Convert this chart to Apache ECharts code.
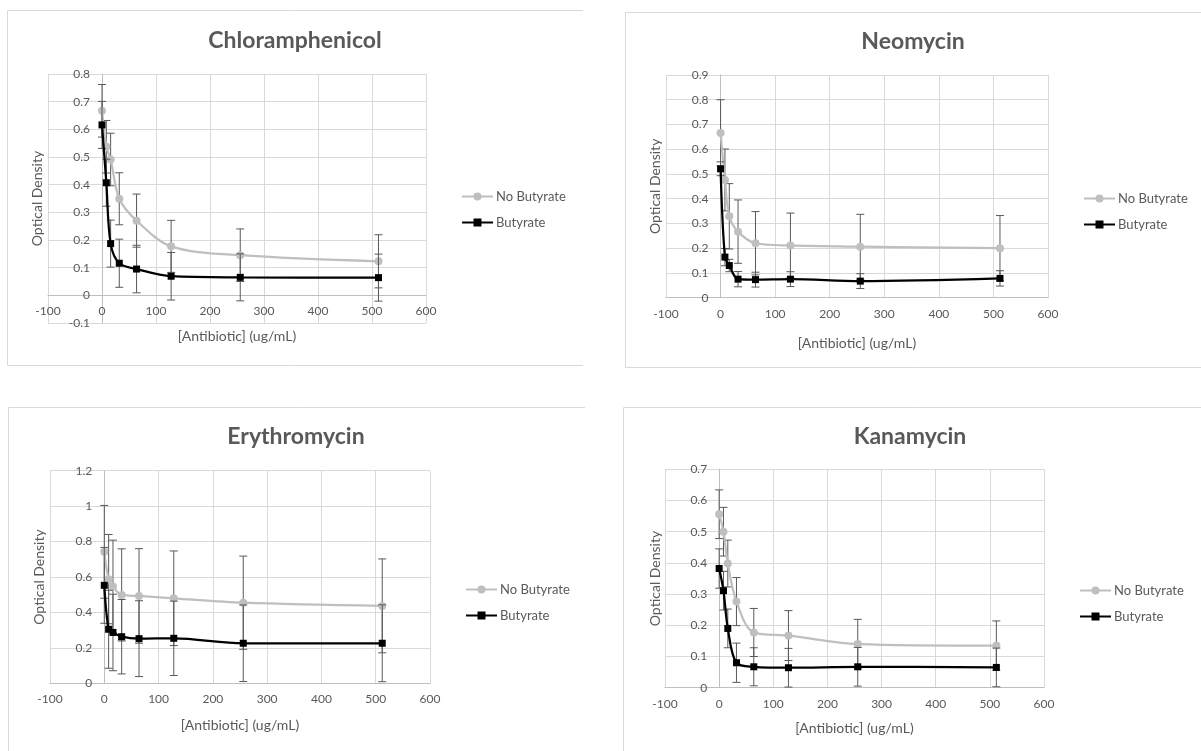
<!DOCTYPE html>
<html>
<head>
<meta charset="utf-8">
<script src="https://cdn.jsdelivr.net/npm/echarts@6/dist/echarts.min.js"></script>
<style>
html,body{margin:0;padding:0;background:#ffffff;}
#chart{width:1201px;height:751px;}
</style>
</head>
<body>
<div id="chart"></div>
<script>
// ---------------- DATA ----------------
const doses = [0, 8, 16, 32, 64, 128, 256, 512];
const seriesNames = ['No Butyrate', 'Butyrate'];
const panelTitles = ['Chloramphenicol', 'Neomycin', 'Erythromycin', 'Kanamycin'];
const xAxisTitle = '[Antibiotic] (ug/mL)';
const yAxisTitle = 'Optical Density';
const xTickRange = [-100, 600, 100];           // min, max, step
const chlorYTicks = [-0.1, 0.8, 0.1];
const neoYTicks = [0, 0.9, 0.1];
const eryYTicks = [0, 1.2, 0.2];
const kanaYTicks = [0, 0.7, 0.1];

const chlorNoButyrate    = [0.667, 0.537, 0.491, 0.349, 0.270, 0.177, 0.145, 0.123];
const chlorNoButyrateErr = [0.095, 0.095, 0.095, 0.094, 0.096, 0.094, 0.095, 0.096];
const chlorButyrate      = [0.616, 0.407, 0.187, 0.116, 0.095, 0.069, 0.065, 0.064];
const chlorButyrateErr   = [0.085, 0.085, 0.085, 0.087, 0.086, 0.086, 0.085, 0.085];

const neoNoButyrate    = [0.666, 0.476, 0.329, 0.267, 0.220, 0.211, 0.206, 0.200];
const neoNoButyrateErr = [0.134, 0.125, 0.132, 0.128, 0.128, 0.131, 0.131, 0.132];
const neoButyrate      = [0.521, 0.164, 0.130, 0.075, 0.073, 0.075, 0.067, 0.078];
const neoButyrateErr   = [0.028, 0.035, 0.025, 0.031, 0.030, 0.030, 0.030, 0.031];

const eryNoButyrate    = [0.742, 0.588, 0.546, 0.499, 0.493, 0.480, 0.455, 0.437];
const eryNoButyrateErr = [0.262, 0.252, 0.262, 0.260, 0.267, 0.267, 0.263, 0.265];
const eryButyrate      = [0.553, 0.305, 0.287, 0.263, 0.252, 0.254, 0.226, 0.226];
const eryButyrateErr   = [0.214, 0.220, 0.216, 0.210, 0.214, 0.210, 0.216, 0.217];

const kanaNoButyrate    = [0.556, 0.500, 0.398, 0.276, 0.177, 0.167, 0.140, 0.135];
const kanaNoButyrateErr = [0.078, 0.078, 0.075, 0.077, 0.077, 0.080, 0.079, 0.079];
const kanaButyrate      = [0.382, 0.311, 0.190, 0.080, 0.067, 0.064, 0.067, 0.065];
const kanaButyrateErr   = [0.063, 0.062, 0.062, 0.063, 0.061, 0.062, 0.062, 0.062];

// ---------------- LAYOUT / STYLE ----------------
const FONT = 'Lato, "Open Sans", sans-serif';
const TXT = '#595959';
const GRID_C = '#d9d9d9';
const AXIS_C = '#bfbfbf';
const ERR_C = '#595959';

const panels = [
  { title: panelTitles[0], y: chlorYTicks, nb: chlorNoButyrate, nbE: chlorNoButyrateErr, b: chlorButyrate, bE: chlorButyrateErr,
    grid: {left: 48, top: 74, width: 378, height: 249}, tc: [295, 42], lg: [456, 185], xGap: 34, yGap: 58,
    border: [[583, 10.5], [7.5, 10.5], [7.5, 365.5], [583, 365.5]] },
  { title: panelTitles[1], y: neoYTicks, nb: neoNoButyrate, nbE: neoNoButyrateErr, b: neoButyrate, bE: neoButyrateErr,
    grid: {left: 666, top: 75, width: 382, height: 222.7}, tc: [913, 43], lg: [1078, 187], xGap: 39, yGap: 58,
    border: [[1201, 12.5], [625.5, 12.5], [625.5, 367.5], [1201, 367.5]] },
  { title: panelTitles[2], y: eryYTicks, nb: eryNoButyrate, nbE: eryNoButyrateErr, b: eryButyrate, bE: eryButyrateErr,
    grid: {left: 50, top: 470.7, width: 380, height: 212.6}, tc: [296, 438], lg: [460, 578], xGap: 35, yGap: 58,
    border: [[585, 407.5], [8.5, 407.5], [8.5, 751]] },
  { title: panelTitles[3], y: kanaYTicks, nb: kanaNoButyrate, nbE: kanaNoButyrateErr, b: kanaButyrate, bE: kanaButyrateErr,
    grid: {left: 665, top: 469.3, width: 379, height: 218.4}, tc: [910, 438], lg: [1074, 579], xGap: 34, yGap: 57,
    border: [[1201, 407.5], [623.5, 407.5], [623.5, 751]] }
];

function errorRender(params, api) {
  const x = api.value(0);
  const lo = api.coord([x, api.value(1)]);
  const hi = api.coord([x, api.value(2)]);
  const cap = 4;
  const st = {stroke: ERR_C, lineWidth: 1};
  return {
    type: 'group',
    children: [
      {type: 'line', shape: {x1: lo[0], y1: lo[1], x2: hi[0], y2: hi[1]}, style: st},
      {type: 'line', shape: {x1: lo[0] - cap, y1: lo[1], x2: lo[0] + cap, y2: lo[1]}, style: st},
      {type: 'line', shape: {x1: hi[0] - cap, y1: hi[1], x2: hi[0] + cap, y2: hi[1]}, style: st}
    ]
  };
}

const option = {
  animation: false,
  backgroundColor: '#ffffff',
  title: [], grid: [], xAxis: [], yAxis: [], legend: [], series: [], graphic: []
};

const labelGrids = [], labelX = [], labelY = [];

panels.forEach((p, i) => {
  const g = p.grid;
  // Excel style: the vertical axis crosses at x = 0, the horizontal axis at y = 0.
  const zeroFracX = (0 - xTickRange[0]) / (xTickRange[1] - xTickRange[0]);
  const zeroFracY = (0 - p.y[0]) / (p.y[1] - p.y[0]);

  option.title.push({
    text: p.title, left: p.tc[0] - 5, top: p.tc[1] - 18, textAlign: 'center',
    textStyle: {fontFamily: FONT, fontSize: 23, fontWeight: 'bold', color: TXT}
  });
  option.grid.push(Object.assign({containLabel: false, outerBoundsMode: 'none'}, g));
  option.xAxis.push({
    type: 'value', gridIndex: i, min: xTickRange[0], max: xTickRange[1], interval: xTickRange[2],
    offset: -g.height * zeroFracY,
    name: xAxisTitle, nameLocation: 'middle', nameGap: p.xGap, nameMoveOverlap: false,
    nameTextStyle: {fontFamily: FONT, fontSize: 14, color: TXT},
    axisLine: {show: true, onZero: false, lineStyle: {color: AXIS_C, width: 1}},
    axisTick: {show: false},
    axisLabel: {fontFamily: FONT, fontSize: 12, color: TXT, margin: 10},
    splitLine: {show: true, lineStyle: {color: GRID_C, width: 1}}
  });
  option.yAxis.push({
    type: 'value', gridIndex: i, min: p.y[0], max: p.y[1], interval: p.y[2],
    axisLine: {show: false, onZero: false},
    axisTick: {show: false},
    axisLabel: {show: false},
    splitLine: {show: true, lineStyle: {color: GRID_C, width: 1}}
  });

  // companion grid whose left edge is the x = 0 line: it carries the vertical axis labels
  const shift = g.width * zeroFracX;
  labelGrids.push({left: g.left + shift, top: g.top, width: g.width - shift, height: g.height,
                   containLabel: false, outerBoundsMode: 'none', show: false});
  labelX.push({
    type: 'value', gridIndex: 4 + i, min: 0, max: xTickRange[1], show: false
  });
  labelY.push({
    type: 'value', gridIndex: 4 + i, min: p.y[0], max: p.y[1], interval: p.y[2],
    name: yAxisTitle, nameLocation: 'middle', nameGap: p.yGap, nameMoveOverlap: false,
    nameTextStyle: {fontFamily: FONT, fontSize: 14, color: TXT},
    axisLine: {show: true, onZero: false, lineStyle: {color: AXIS_C, width: 1}},
    axisTick: {show: false},
    axisLabel: {fontFamily: FONT, fontSize: 12, color: TXT, margin: 12},
    splitLine: {show: false}
  });

  option.legend.push({
    orient: 'vertical', left: p.lg[0], top: p.lg[1], itemWidth: 31, itemHeight: 10, itemGap: 13,
    data: seriesNames, selectedMode: false,
    textStyle: {fontFamily: FONT, fontSize: 13, color: TXT, padding: [0, 0, 0, -2]}
  });
  const mk = (vals, errs) => doses.map((d, k) => [d, vals[k] - errs[k], vals[k] + errs[k]]);
  option.series.push({
    type: 'custom', name: 'No Butyrate err ' + i, xAxisIndex: i, yAxisIndex: i, z: 2,
    renderItem: errorRender, encode: {x: 0, y: [1, 2]}, data: mk(p.nb, p.nbE), silent: true
  });
  option.series.push({
    type: 'line', name: seriesNames[0], xAxisIndex: i, yAxisIndex: i, z: 3,
    data: doses.map((d, k) => [d, p.nb[k]]), smooth: 0.33,
    symbol: 'circle', symbolSize: 8, showAllSymbol: true,
    itemStyle: {color: '#bfbfbf'}, lineStyle: {color: '#bfbfbf', width: 2.25}
  });
  option.series.push({
    type: 'custom', name: 'Butyrate err ' + i, xAxisIndex: i, yAxisIndex: i, z: 4,
    renderItem: errorRender, encode: {x: 0, y: [1, 2]}, data: mk(p.b, p.bE), silent: true
  });
  option.series.push({
    type: 'line', name: seriesNames[1], xAxisIndex: i, yAxisIndex: i, z: 5,
    data: doses.map((d, k) => [d, p.b[k]]), smooth: 0.33,
    symbol: 'rect', symbolSize: 7, showAllSymbol: true,
    itemStyle: {color: '#000000'}, lineStyle: {color: '#000000', width: 2.25}
  });
  option.graphic.push({
    type: 'polyline', silent: true, shape: {points: p.border},
    style: {stroke: GRID_C, lineWidth: 1, fill: null}
  });
});

option.grid = option.grid.concat(labelGrids);
option.xAxis = option.xAxis.concat(labelX);
option.yAxis = option.yAxis.concat(labelY);

const chart = echarts.init(document.getElementById('chart'), null, {renderer: 'canvas'});
chart.setOption(option);
</script>
</body>
</html>
